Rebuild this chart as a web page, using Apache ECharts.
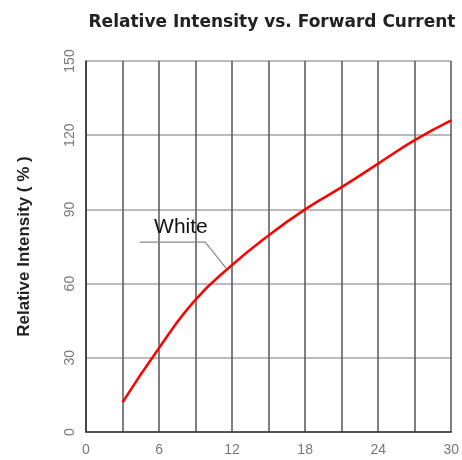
<!DOCTYPE html>
<html>
<head>
<meta charset="utf-8">
<script src="https://cdn.jsdelivr.net/npm/echarts@6/dist/echarts.min.js"></script>
<style>
html,body{margin:0;padding:0;background:#fff;}
#chart{width:462px;height:460px;}
</style>
</head>
<body>
<div id="chart"></div>
<script>
var currents = [3, 6, 9, 12, 15, 18, 21, 24, 27, 30];
var intensity = [12, 34, 53.5, 67.5, 79.5, 90, 99, 108.5, 118, 126];
var seriesName = 'White';
var leaderLine = [[4.4, 76.8], [9.8, 76.8], [11.5, 66.3]];
var labelAt = [7.8, 82.6];
var xTickStep = 6;

var chart = echarts.init(document.getElementById('chart'));
chart.setOption({
  backgroundColor: '#fff',
  animation: false,
  title: {
    text: 'Relative Intensity vs. Forward Current',
    left: 267, top: 9, textAlign: 'center',
    textStyle: {fontFamily: 'DejaVu Sans', fontSize: 17, fontWeight: 'bold', color: '#222'}
  },
  grid: {left: 86, right: 7, top: 61, bottom: 28},
  xAxis: {
    type: 'value', min: 0, max: 30, interval: 3,
    axisLine: {show: true, lineStyle: {color: '#333', width: 1.5}},
    axisTick: {show: false},
    axisLabel: {
      color: '#777', fontFamily: 'Liberation Sans', fontSize: 14, margin: 11,
      formatter: function (v) { return v % xTickStep === 0 ? String(v) : ''; }
    },
    splitLine: {show: true, lineStyle: {color: '#555', width: 1.5}}
  },
  yAxis: {
    type: 'value', min: 0, max: 150, interval: 30,
    name: 'Relative Intensity ( % )', nameLocation: 'middle', nameGap: 53,
    nameTextStyle: {fontFamily: 'Liberation Sans', fontSize: 17, fontWeight: 'bold', color: '#222'},
    axisLine: {show: true, lineStyle: {color: '#333', width: 1.5}},
    axisTick: {show: false},
    axisLabel: {color: '#777', fontFamily: 'Liberation Sans', fontSize: 14, rotate: 90, margin: 9},
    splitLine: {show: true, lineStyle: {color: '#bbb', width: 2}}
  },
  series: [
    {
      name: seriesName, type: 'line', smooth: true, symbol: 'none',
      data: currents.map(function (c, i) { return [c, intensity[i]]; }),
      lineStyle: {color: '#ff0000', width: 2.5},
      markPoint: {
        symbol: 'circle', symbolSize: 0,
        label: {show: true, formatter: seriesName, color: '#111', fontFamily: 'Liberation Sans', fontSize: 21},
        data: [{coord: labelAt}]
      },
      z: 3
    },
    {
      name: 'leader', type: 'line', symbol: 'none', silent: true,
      data: leaderLine,
      lineStyle: {color: '#888', width: 1.2},
      z: 2
    }
  ]
});
</script>
</body>
</html>
